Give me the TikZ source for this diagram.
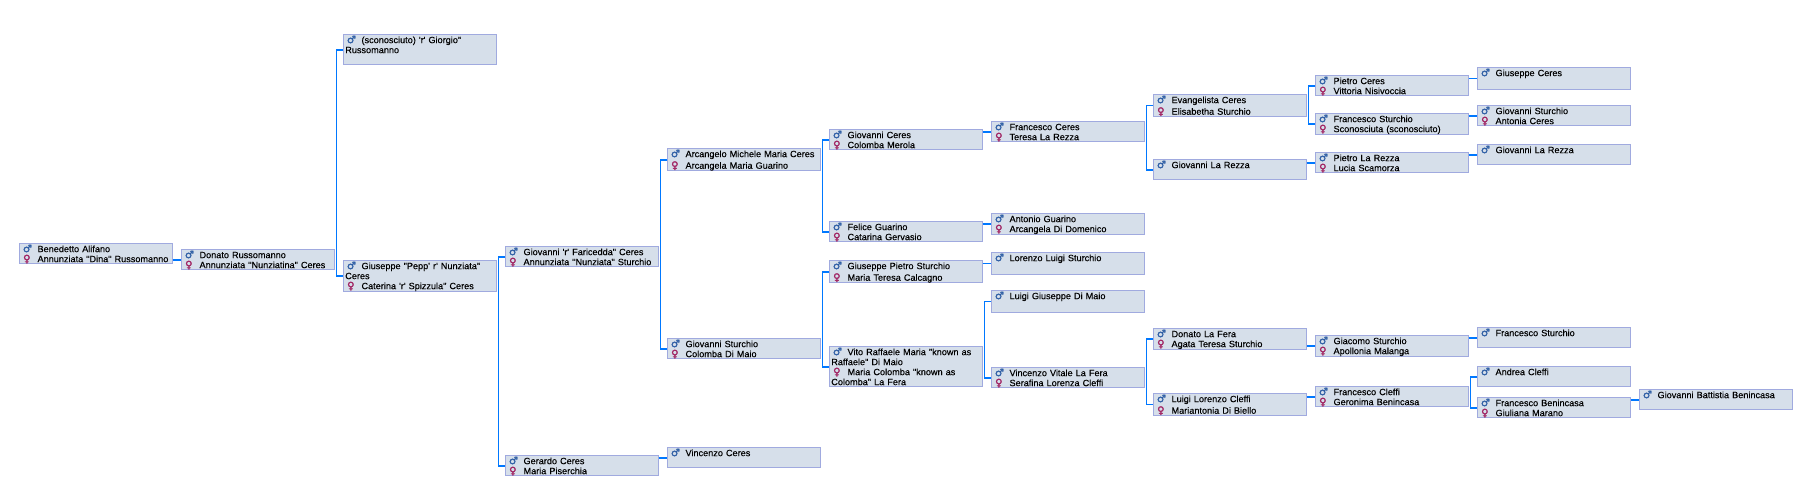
\documentclass[tikz,border=0pt]{standalone}
\usepackage{fontspec}
\setmainfont{Liberation Sans}[Ligatures=TeXOff,WordSpace=1.6,FakeBold=0.25]
\newfontfamily\symfont{DejaVu Sans}[FakeBold=2]
\definecolor{boxfill}{HTML}{D6DFEA}
\definecolor{boxline}{HTML}{A0AADF}
\definecolor{linkblue}{HTML}{0078FF}
\definecolor{maleblue}{HTML}{2F5FA5}
\definecolor{femalered}{HTML}{A02060}
\newcommand{\linestrut}{\rule[-1.25pt]{0pt}{7.5pt}}
\newcommand{\malesym}{\linestrut\makebox[12.2pt][l]{\hspace{1.2pt}\smash{\symfont\fontsize{7.6}{7.5}\selectfont\color{maleblue}♂}}}
\newcommand{\femalesym}{\linestrut\makebox[12.2pt][l]{\hspace{1.4pt}\smash{\symfont\fontsize{7.6}{7.5}\selectfont\color{femalered}♀}}}
\newcommand{\couple}[2]{\malesym #1\\\femalesym #2\linestrut}
\newcommand{\lone}[1]{\malesym #1\\\linestrut}
\tikzset{
	person/.style={draw=boxline, fill=boxfill, line width=0.75pt, anchor=north west, inner xsep=1.1pt, inner ysep=0pt, text width=112pt, align=left, font=\fontsize{6.85}{7.5}\selectfont},
	link/.style={draw=linkblue, line width=1.3pt}
}
\begin{document}
\begin{tikzpicture}[x=0.75pt, y=-0.75pt]
		\useasboundingbox (0,0) rectangle (1815,501);
		%first columns
		\node[person] (benedetto) at (19.3, 243.3) {\couple{Benedetto Alifano}{Annunziata "Dina" Russomanno}};
		\node[person] (donato) at (181.3, 249.3) {\couple{Donato Russomanno}{Annunziata "Nunziatina" Ceres}};
		\node[person] (sconosciuto) at (343.3, 34.3) {\lone{(sconosciuto) 'r' Giorgio"\\Russomanno}};
		\node[person] (giuseppe) at (343.3, 260.3) {\couple{Giuseppe "Pepp' r' Nunziata"\\Ceres}{Caterina 'r' Spizzula" Ceres}};
		\node[person] (faricedda) at (505.3, 246.3) {\couple{Giovanni 'r' Faricedda" Ceres}{Annunziata "Nunziata" Sturchio}};
		\node[person] (gerardo) at (505.3, 455.3) {\couple{Gerardo Ceres}{Maria Piserchia}};
		\node[person] (arcangelo) at (667.3, 148.3) {\couple{Arcangelo Michele Maria Ceres}{Arcangela Maria Guarino}};
		\node[person] (sturchio) at (667.3, 338.3) {\couple{Giovanni Sturchio}{Colomba Di Maio}};
		\node[person] (vincenzoc) at (667.3, 447.3) {\lone{Vincenzo Ceres}};
		\node[person] (giovannic) at (829.3, 129.3) {\couple{Giovanni Ceres}{Colomba Merola}};
		\node[person] (felice) at (829.3, 221.3) {\couple{Felice Guarino}{Catarina Gervasio}};
		\node[person] (pietrost) at (829.3, 260.3) {\couple{Giuseppe Pietro Sturchio}{Maria Teresa Calcagno}};
		\node[person] (vito) at (829.3, 346.3) {\couple{Vito Raffaele Maria "known as\\Raffaele" Di Maio}{Maria Colomba "known as\\Colomba" La Fera}};
		%middle columns
		\node[person] (francescoc) at (991.3, 121.3) {\couple{Francesco Ceres}{Teresa La Rezza}};
		\node[person] (antonio) at (991.3, 213.3) {\couple{Antonio Guarino}{Arcangela Di Domenico}};
		\node[person] (lorenzo) at (991.3, 252.3) {\lone{Lorenzo Luigi Sturchio}};
		\node[person] (luigig) at (991.3, 290.3) {\lone{Luigi Giuseppe Di Maio}};
		\node[person] (vincenzov) at (991.3, 367.3) {\couple{Vincenzo Vitale La Fera}{Serafina Lorenza Cleffi}};
		\node[person] (evangelista) at (1153.3, 94.3) {\couple{Evangelista Ceres}{Elisabetha Sturchio}};
		\node[person] (rezza) at (1153.3, 159.3) {\lone{Giovanni La Rezza}};
		\node[person] (donatol) at (1153.3, 328.3) {\couple{Donato La Fera}{Agata Teresa Sturchio}};
		\node[person] (luigil) at (1153.3, 393.3) {\couple{Luigi Lorenzo Cleffi}{Mariantonia Di Biello}};
		%last columns
		\node[person] (pietroc) at (1315.3, 75.3) {\couple{Pietro Ceres}{Vittoria Nisivoccia}};
		\node[person] (francescos) at (1315.3, 113.3) {\couple{Francesco Sturchio}{Sconosciuta (sconosciuto)}};
		\node[person] (pietror) at (1315.3, 152.3) {\couple{Pietro La Rezza}{Lucia Scamorza}};
		\node[person] (giacomo) at (1315.3, 335.3) {\couple{Giacomo Sturchio}{Apollonia Malanga}};
		\node[person] (cleffi) at (1315.3, 386.3) {\couple{Francesco Cleffi}{Geronima Benincasa}};
		\node[person] (giuseppec) at (1477.3, 67.3) {\lone{Giuseppe Ceres}};
		\node[person] (giovannis) at (1477.3, 105.3) {\couple{Giovanni Sturchio}{Antonia Ceres}};
		\node[person] (giovannir) at (1477.3, 144.3) {\lone{Giovanni La Rezza}};
		\node[person] (francescof) at (1477.3, 327.3) {\lone{Francesco Sturchio}};
		\node[person] (andrea) at (1477.3, 366.3) {\lone{Andrea Cleffi}};
		\node[person] (benincasa) at (1477.3, 397.3) {\couple{Francesco Benincasa}{Giuliana Marano}};
		\node[person] (battistia) at (1639.3, 389.3) {\lone{Giovanni Battistia Benincasa}};
		
		%forks
		\foreach \pa/\ca/\cb in {donato/sconosciuto/giuseppe, giuseppe/faricedda/gerardo, faricedda/arcangelo/sturchio, arcangelo/giovannic/felice, sturchio/pietrost/vito, vito/luigig/vincenzov, francescoc/evangelista/rezza, vincenzov/donatol/luigil, evangelista/pietroc/francescos, cleffi/andrea/benincasa}{
			\coordinate (\pa-bus) at ([xshift=1.5pt]\pa.east);
			\draw[link] (\ca.west) -| (\pa-bus) |- (\cb.west);
		}
		
		%single links
		\foreach \pa/\ca in {benedetto/donato, gerardo/vincenzoc, giovannic/francescoc, felice/antonio, pietrost/lorenzo, rezza/pietror, pietroc/giuseppec, francescos/giovannis, pietror/giovannir, donatol/giacomo, luigil/cleffi, giacomo/francescof, benincasa/battistia}{
			\draw[link] (\pa.east |- \ca.west) -- (\ca.west);
		}
		\end{tikzpicture}
\end{document}
